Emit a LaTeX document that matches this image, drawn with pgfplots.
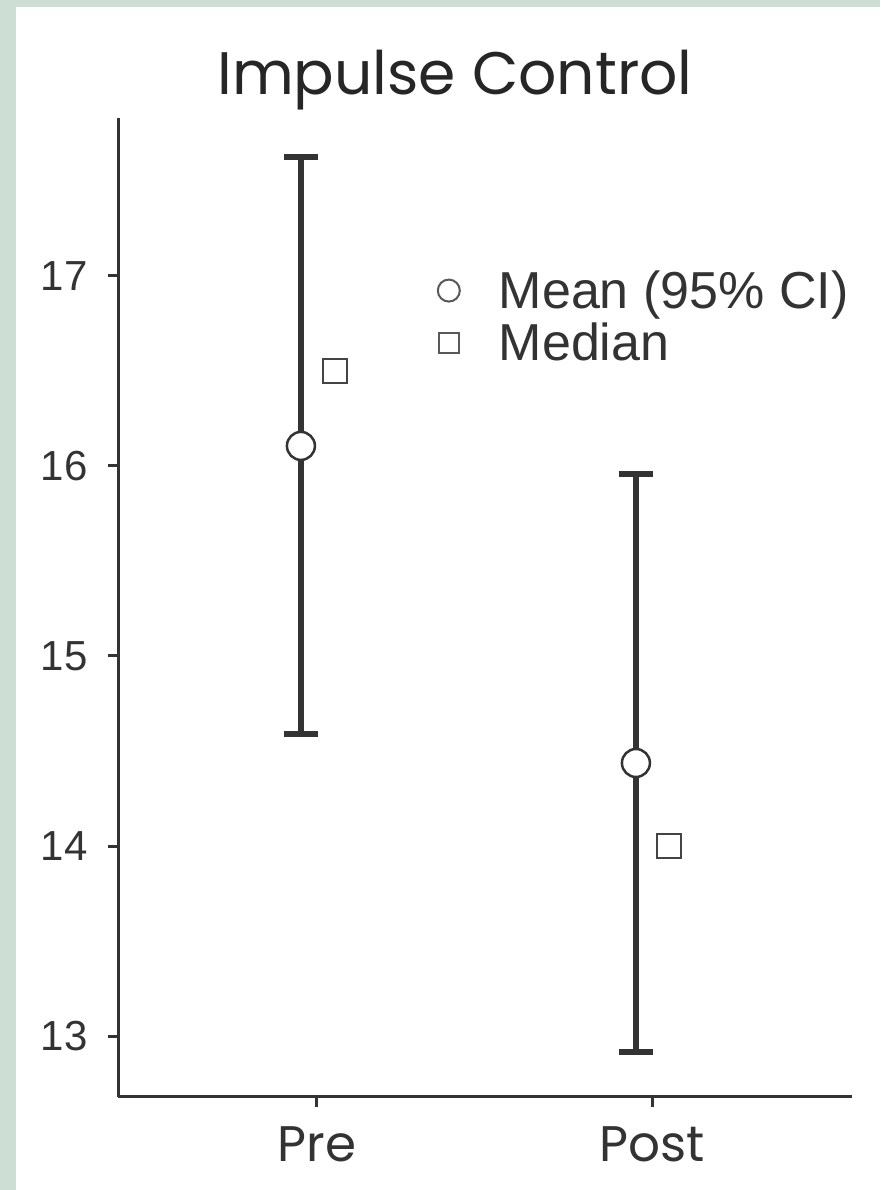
\documentclass[border=0pt]{standalone}
\usepackage{pgfplots}
\pgfplotsset{compat=1.18}
\usepackage{fontspec}
\setmainfont{Liberation Sans}
\newfontfamily\pop{Poppins}
\definecolor{bggreen}{HTML}{CDDFD4}
\definecolor{ink}{HTML}{333333}
\definecolor{mk}{HTML}{444444}
\begin{document}
\begin{tikzpicture}[x=1pt,y=1pt]
\fill[bggreen] (0,0) rectangle (880,1190);
\fill[white] (16,0) rectangle (880,1183);
\node[anchor=base, font=\pop\fontsize{60}{60}\selectfont, text=black!85] at (455,1095) {Impulse Control};
\begin{axis}[at={(118pt,93pt)}, anchor=south west, scale only axis,
  width=734pt, height=979pt,
  xmin=0.406, xmax=2.597, ymin=12.68, ymax=17.83,
  axis x line*=bottom, axis y line*=left,
  axis line style={ink, line width=3pt},
  xtick={1,2}, xticklabels={Pre,Post}, ytick={13,14,15,16,17},
  tick align=outside, major tick length=10pt,
  tick style={ink, line width=3pt},
  xticklabel style={font=\pop\fontsize{50}{50}\selectfont, text=ink, yshift=-16pt},
  yticklabel style={font=\fontsize{42}{42}\selectfont, text=ink, xshift=-17pt},
  /pgf/number format/assume math mode=true,
  clip=false,
  legend style={at={(rel axis cs:0.43,0.848)}, anchor=north west, draw=none, fill=none,
    font=\fontsize{52}{52}\selectfont, text=ink, row sep=9pt},
  legend cell align=left,
  legend image code/.code={\path[draw=none, fill=none] (0pt,0pt) -- (60pt,0pt); \draw[#1] plot coordinates {(12pt,0pt)};},
]
\addplot[only marks, mark=*, mark size=14pt, mark options={fill=white, draw=ink, line width=2.5pt},
  legend image post style={mark size=11pt, mark options={fill=white, draw=black!65, line width=2pt}},
  error bars/.cd, y dir=both, y explicit,
  error mark=|,
  error bar style={ink, line width=5.5pt},
  error mark options={ink, line width=6pt, mark size=17pt}]
  table[x=x, y=y, y error plus=ep, y error minus=em] {
x y ep em
0.952 16.105 1.521 1.516
1.952 14.437 1.521 1.521
};
\addlegendentry{Mean (95\% CI)}
\addplot[only marks, mark=square, mark size=12pt, mark options={draw=mk, line width=2.5pt, fill=white},
  legend image post style={mark size=10pt, mark options={fill=white, draw=black!65, line width=2pt}}]
  table[x=x, y=y] {
x y
1.053 16.50
2.051 14.00
};
\addlegendentry{Median}
\end{axis}
\end{tikzpicture}
\end{document}
